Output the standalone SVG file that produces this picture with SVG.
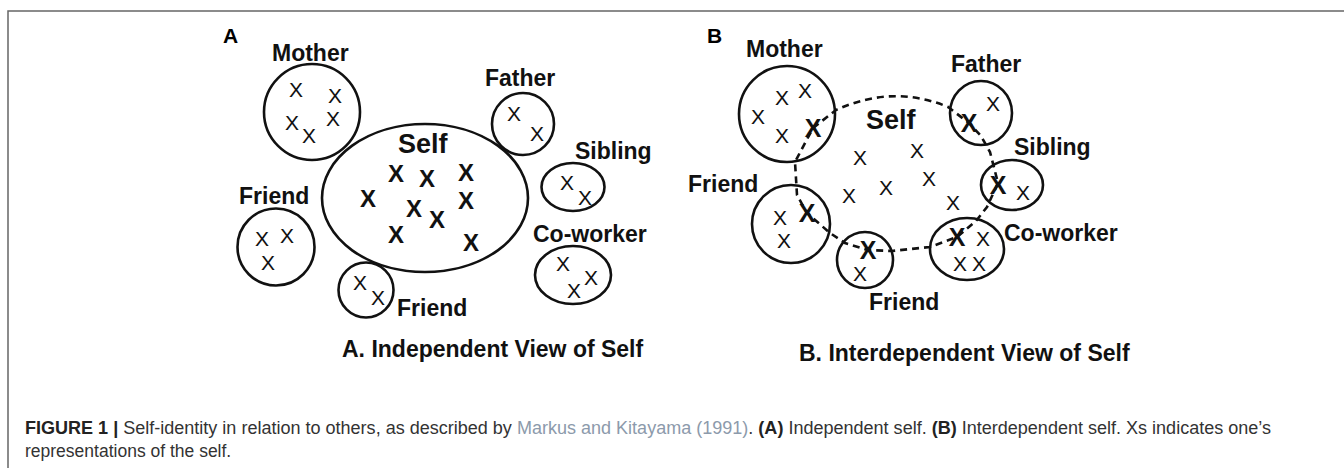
<svg xmlns="http://www.w3.org/2000/svg" width="1344" height="469" viewBox="0 0 1344 469">
<style>
.ln{fill:none;stroke:#111;stroke-width:2.6}
.lb{font-family:"Liberation Sans",Arial,sans-serif;font-weight:bold;font-size:23px;fill:#111}
.self{font-family:"Liberation Sans",Arial,sans-serif;font-weight:bold;font-size:27px;fill:#111}
.pl{font-family:"Liberation Sans",Arial,sans-serif;font-weight:bold;font-size:21px;fill:#000}
.x{font-family:"Liberation Sans",Arial,sans-serif;font-size:21px;fill:#111;text-anchor:middle}
.xb{font-family:"Liberation Sans",Arial,sans-serif;font-size:25px;font-weight:bold;fill:#111;text-anchor:middle}
.xs{font-family:"Liberation Sans",Arial,sans-serif;font-size:24px;font-weight:bold;fill:#111;text-anchor:middle}
.cap{font-family:"Liberation Sans",Arial,sans-serif;font-size:17.5px;fill:#333}
.b{font-weight:bold;fill:#222}
.lk{fill:#8c9aab}
.dash{fill:none;stroke:#111;stroke-width:2.6;stroke-dasharray:7 5}
</style>
<rect width="1344" height="469" fill="#fff"/>
<path d="M8,468 V11 H1344" fill="none" stroke="#666" stroke-width="1.5"/>

<!-- Panel A -->
<text class="pl" x="223" y="43">A</text>
<g id="a-mother">
<circle class="ln" cx="312" cy="112" r="48"/>
<text class="lb" x="272" y="61">Mother</text>
<text class="x" x="296" y="96.5">X</text><text class="x" x="335" y="102.5">X</text><text class="x" x="292" y="129.5">X</text><text class="x" x="309" y="142.5">X</text><text class="x" x="333" y="125.5">X</text>
</g>
<g id="a-father">
<ellipse class="ln" cx="523" cy="124" rx="31" ry="31"/>
<text class="lb" x="485" y="86">Father</text>
<text class="x" x="514" y="120.5">X</text><text class="x" x="537" y="140.5">X</text>
</g>
<g id="a-self">
<ellipse class="ln" cx="425" cy="198" rx="103" ry="74"/>
<text class="self" x="398" y="153">Self</text>
<text class="xs" x="396" y="181.6">X</text><text class="xs" x="427" y="186.6">X</text><text class="xs" x="466" y="180.6">X</text>
<text class="xs" x="368" y="206.6">X</text><text class="xs" x="414" y="216.6">X</text><text class="xs" x="437" y="227.6">X</text><text class="xs" x="466" y="208.6">X</text>
<text class="xs" x="396" y="242.6">X</text><text class="xs" x="471" y="250.6">X</text>
</g>
<g id="a-friend1">
<circle class="ln" cx="276" cy="247" r="38.5"/>
<text class="lb" x="239" y="204">Friend</text>
<text class="x" x="262" y="245.5">X</text><text class="x" x="287" y="242.5">X</text><text class="x" x="268" y="269.5">X</text>
</g>
<g id="a-friend2">
<circle class="ln" cx="366" cy="290" r="27.5"/>
<text class="lb" x="397" y="316">Friend</text>
<text class="x" x="360" y="289.5">X</text><text class="x" x="378" y="304.5">X</text>
</g>
<g id="a-sibling">
<ellipse class="ln" cx="573" cy="187" rx="31.5" ry="24"/>
<text class="lb" x="575" y="159">Sibling</text>
<text class="x" x="567" y="189.5">X</text><text class="x" x="585" y="204.5">X</text>
</g>
<g id="a-coworker">
<ellipse class="ln" cx="573" cy="275" rx="38" ry="29"/>
<text class="lb" x="533" y="242">Co-worker</text>
<text class="x" x="563" y="270.5">X</text><text class="x" x="591" y="284.5">X</text><text class="x" x="574" y="297.5">X</text>
</g>
<text class="lb" x="342" y="357">A. Independent View of Self</text>

<!-- Panel B -->
<text class="pl" x="707" y="43">B</text>
<g id="connectors">
<path class="dash" d="M813,128 L836,110 Q893,84 948,107 L969,123 L981,136 L990,152 L998,183 L987,207 L976,221 L957,237 L930,247 L892,251 L868,250 L845,243 L830,233 L807,213 L797,195 L795,162 Z"/>
</g>
<g id="b-mother">
<circle class="ln" cx="787" cy="114" r="48"/>
<text class="lb" x="746" y="57">Mother</text>
<text class="x" x="758" y="123.5">X</text><text class="x" x="782" y="104.5">X</text><text class="x" x="805" y="97.5">X</text><text class="x" x="782" y="142.5">X</text>
<text class="xb" x="813" y="137">X</text>
</g>
<g id="b-father">
<ellipse class="ln" cx="981" cy="113" rx="31" ry="32"/>
<text class="lb" x="951" y="72">Father</text>
<text class="xb" x="969" y="132">X</text><text class="x" x="993" y="110.5">X</text>
</g>
<g id="b-self">
<text class="self" x="866" y="129">Self</text>
<text class="x" x="860" y="164.5">X</text><text class="x" x="917" y="157.5">X</text><text class="x" x="849" y="202.5">X</text>
<text class="x" x="886" y="194.5">X</text><text class="x" x="929" y="185.5">X</text><text class="x" x="953" y="209.5">X</text>
</g>
<g id="b-sibling">
<ellipse class="ln" cx="1012" cy="185" rx="31" ry="25"/>
<text class="lb" x="1014" y="155">Sibling</text>
<text class="xb" x="998" y="194">X</text><text class="x" x="1023" y="199.5">X</text>
</g>
<g id="b-coworker">
<ellipse class="ln" cx="967" cy="249" rx="37" ry="31"/>
<text class="lb" x="1004" y="241">Co-worker</text>
<text class="xb" x="957" y="246">X</text><text class="x" x="983" y="245.5">X</text><text class="x" x="960" y="270.5">X</text><text class="x" x="979" y="270.5">X</text>
</g>
<g id="b-friend2">
<circle class="ln" cx="865" cy="260" r="28"/>
<text class="lb" x="869" y="310">Friend</text>
<text class="xb" x="868" y="259">X</text><text class="x" x="860" y="280.5">X</text>
</g>
<g id="b-friend1">
<circle class="ln" cx="791" cy="224" r="39"/>
<text class="lb" x="688" y="192">Friend</text>
<text class="x" x="780" y="224.5">X</text><text class="xb" x="807" y="222">X</text><text class="x" x="784" y="247.5">X</text>
</g>
<text class="lb" x="799" y="361">B. Interdependent View of Self</text>

<!-- Figure caption -->
<text class="cap" x="25" y="434" textLength="1246" lengthAdjust="spacingAndGlyphs"><tspan class="b">FIGURE 1 | </tspan>Self-identity in relation to others, as described by <tspan class="lk">Markus and Kitayama (1991)</tspan>. <tspan class="b">(A)</tspan> Independent self. <tspan class="b">(B)</tspan> Interdependent self. Xs indicates one’s</text>
<text class="cap" x="25" y="457">representations of the self.</text>
</svg>
